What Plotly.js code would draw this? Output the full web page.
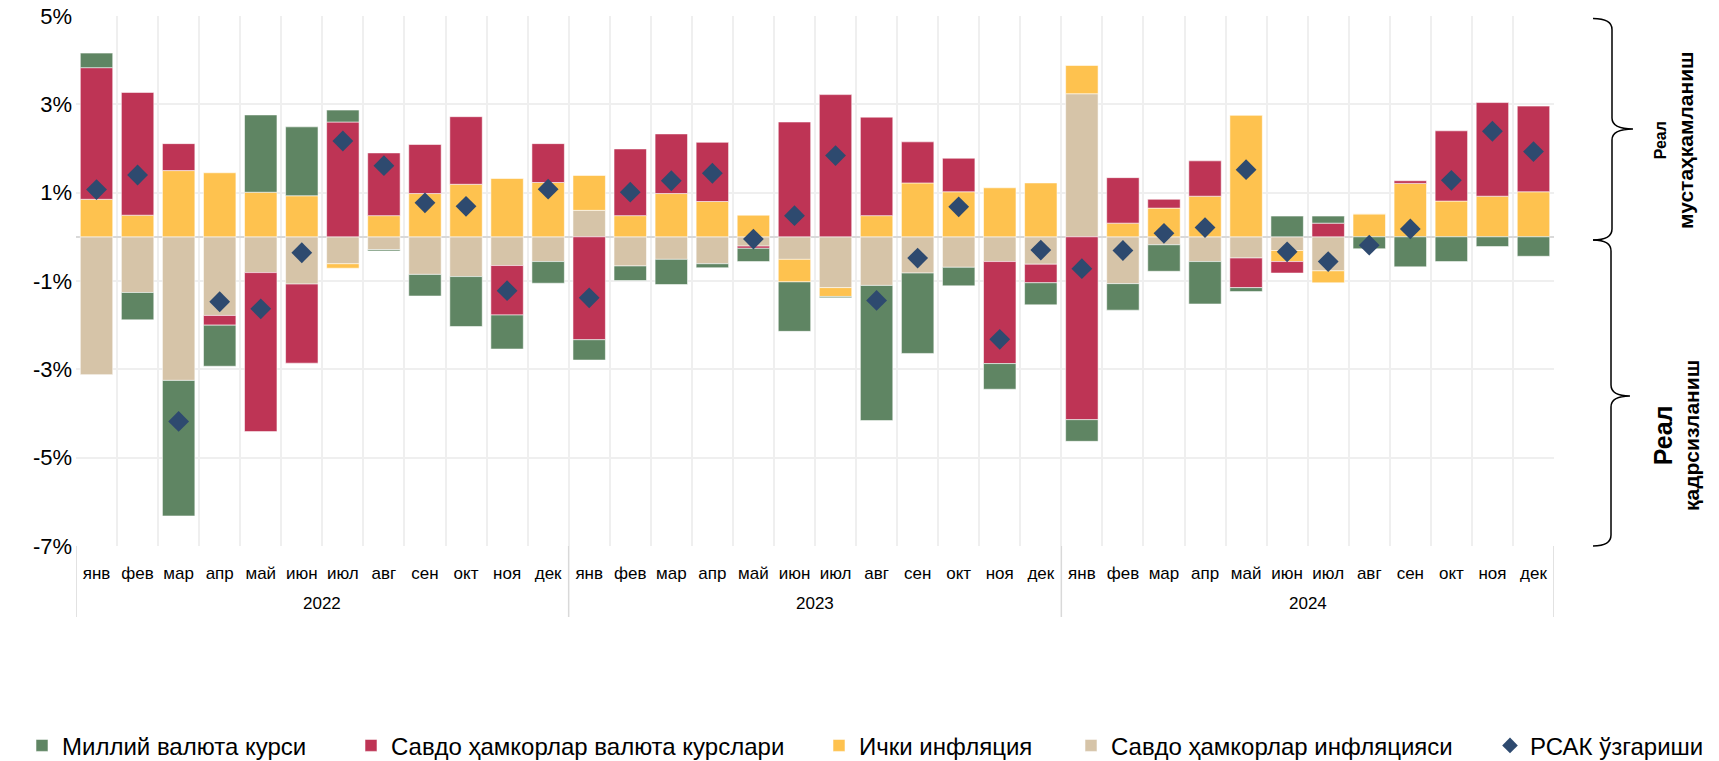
<!DOCTYPE html>
<html>
<head>
<meta charset="utf-8">
<script src="https://cdn.plot.ly/plotly-3.0.1.min.js"></script>
<style>html,body{margin:0;padding:0;background:#fff;}#chart{width:1719px;height:761px;}</style>
</head>
<body>
<div id="chart"></div>
<script>
// ---- data ----
const years = ['2022', '2023', '2024'];
const months = ['янв','фев','мар','апр','май','июн','июл','авг','сен','окт','ноя','дек'];

// Миллий валюта курси
const nationalFx = [
  0.33, -0.62, -3.07, -0.93, 1.75, 1.56, 0.27, -0.03, -0.49, -1.13, -0.77, -0.49,
  -0.46, -0.33, -0.57, -0.09, -0.30, -1.12, -0.03, -3.06, -1.82, -0.42, -0.58, -0.50,
  -0.49, -0.60, -0.60, -0.96, -0.09, 0.47, 0.16, -0.27, -0.68, -0.56, -0.22, -0.44
];
// Савдо ҳамкорлар валюта курслари
const partnerFx = [
  2.98, 2.78, 0.61, -0.22, -3.60, -1.79, 2.60, 1.42, 1.11, 1.53, -1.12, 0.88,
  -2.33, 1.51, 1.35, 1.34, -0.05, 2.60, 3.22, 2.23, 0.93, 0.76, -2.31, -0.42,
  -4.14, 1.03, 0.20, 0.80, -0.67, -0.26, 0.31, 0, 0.06, 1.59, 2.12, 1.94
];
// Ички инфляция
const domesticInfl = [
  0.85, 0.49, 1.50, 1.45, 1.01, 0.93, -0.10, 0.48, 0.98, 1.19, 1.32, 1.23,
  0.79, 0.48, 0.98, 0.80, 0.49, -0.51, -0.20, 0.48, 1.22, 1.02, 1.11, 1.22,
  0.64, 0.31, 0.65, 0.92, 2.75, -0.25, -0.27, 0.52, 1.21, 0.81, 0.92, 1.02
];
// Савдо ҳамкорлар инфляцияси
const partnerInfl = [
  -3.12, -1.26, -3.25, -1.78, -0.81, -1.07, -0.61, -0.29, -0.85, -0.90, -0.65, -0.56,
  0.60, -0.66, -0.51, -0.61, -0.21, -0.51, -1.15, -1.10, -0.82, -0.69, -0.56, -0.62,
  3.24, -1.06, -0.18, -0.56, -0.48, -0.31, -0.77, null, null, null, null, null
];
// РСАК ўзгариши
const reerChange = [
  1.07, 1.40, -4.18, -1.47, -1.63, -0.36, 2.17, 1.61, 0.77, 0.69, -1.22, 1.08,
  -1.38, 1.01, 1.27, 1.44, -0.05, 0.48, 1.84, -1.44, -0.48, 0.68, -2.32, -0.30,
  -0.72, -0.31, 0.08, 0.21, 1.52, -0.34, -0.56, -0.19, 0.18, 1.28, 2.39, 1.93
];

const yTickVals = [-7, -5, -3, -1, 1, 3, 5];
const yTickText = ['-7%', '-5%', '-3%', '-1%', '1%', '3%', '5%'];

const names = {
  nationalFx: 'Миллий валюта курси',
  partnerFx: 'Савдо ҳамкорлар валюта курслари',
  domesticInfl: 'Ички инфляция',
  partnerInfl: 'Савдо ҳамкорлар инфляцияси',
  reerChange: 'РСАК ўзгариши'
};
const brace1Label = ['Реал', 'мустаҳкамланиш'];
const brace2Label = ['Реал', 'қадрсизланиш'];

// ---- build ----
const xMonth = [], xIdx = [];
years.forEach(y => months.forEach(m => { xIdx.push(xMonth.length); xMonth.push(m); }));
const nCat = xMonth.length;
const perYear = months.length;

const colors = {
  green: '#5F8563', red: '#BE3455', yellow: '#FEC24F', beige: '#D6C4A8', navy: '#2E4A6F'
};
const barLine = {color: 'rgba(255,255,255,0.55)', width: 1};

function bar(vals, name, color, legend) {
  return {type: 'bar', x: xIdx, y: vals, name: name, legend: legend,
    marker: {color: color, line: barLine}, hoverinfo: 'skip'};
}

const traces = [
  bar(partnerInfl, names.partnerInfl, colors.beige, 'legend4'),
  bar(domesticInfl, names.domesticInfl, colors.yellow, 'legend3'),
  bar(partnerFx, names.partnerFx, colors.red, 'legend2'),
  bar(nationalFx, names.nationalFx, colors.green, 'legend'),
  {type: 'scatter', mode: 'markers', x: xIdx, y: reerChange, name: names.reerChange,
   legend: 'legend5', hoverinfo: 'skip', cliponaxis: false,
   marker: {symbol: 'diamond', size: 16, color: colors.navy}}
];

// plot area geometry (px)
const W = 1719, H = 761;
const M = {l: 76, r: 165, t: 16, b: 215, autoexpand: false};
const PW = W - M.l - M.r, PH = H - M.t - M.b;
const px = X0 => (X0 - M.l) / PW;
const py = Y0 => (H - M.b - Y0) / PH;
function brace(x0, xv, xt, y0, ym, y1) {
  const c = 11;
  const pts = [
    ['M', x0, y0], ['Q', xv, y0, xv, y0 + c], ['L', xv, ym - c],
    ['Q', xv, ym, xt, ym], ['Q', xv, ym, xv, ym + c], ['L', xv, y1 - c],
    ['Q', xv, y1, x0, y1]
  ];
  return pts.map(p => {
    let s = p[0];
    for (let i = 1; i < p.length; i += 2) s += ' ' + px(p[i]).toFixed(5) + ',' + py(p[i+1]).toFixed(5);
    return s;
  }).join(' ');
}

const legendBase = {orientation: 'h', xref: 'container', yref: 'container', y: 0.02,
  yanchor: 'middle', xanchor: 'left', font: {size: 24, color: '#000', family: 'Liberation Sans, Arial, sans-serif'},
  bgcolor: 'rgba(0,0,0,0)'};
const legendX = [22, 351, 819, 1071, 1490];

// two-line rotated label: small first word, larger second word
function vLabel(x, y, words, firstSize, size) {
  return {xref: 'paper', yref: 'paper', x: px(x), y: py(y), xanchor: 'center', yanchor: 'middle',
    align: 'center', textangle: -90, showarrow: false, font: {size: size, color: '#000'},
    text: '<b><span style="font-size:' + firstSize + 'px">' + words[0] + '</span><br>' + words[1] + '</b>'};
}

// year group labels and dividers (positioned on the x axis scale)
const yearAnns = years.map((y, i) => ({
  xref: 'x', yref: 'paper', x: i * perYear + (perYear - 1) / 2, y: py(603),
  xanchor: 'center', yanchor: 'middle', text: y, showarrow: false,
  font: {size: 17, color: '#000'}
}));
const dividerShapes = [];
for (let i = 0; i <= years.length; i++) {
  dividerShapes.push({type: 'line', xref: 'x', yref: 'paper',
    x0: i * perYear - 0.5, x1: i * perYear - 0.5, y0: 0, y1: py(617),
    line: {color: '#d9d9d9', width: 1.5}});
}

const layout = {
  width: W, height: H,
  margin: M,
  paper_bgcolor: '#fff', plot_bgcolor: '#fff',
  font: {family: 'Liberation Sans, Arial, sans-serif', color: '#000'},
  barmode: 'relative',
  bargap: 0.21,
  showlegend: true,
  legend: Object.assign({}, legendBase, {x: legendX[0] / W}),
  legend2: Object.assign({}, legendBase, {x: legendX[1] / W}),
  legend3: Object.assign({}, legendBase, {x: legendX[2] / W}),
  legend4: Object.assign({}, legendBase, {x: legendX[3] / W}),
  legend5: Object.assign({}, legendBase, {x: legendX[4] / W, itemsizing: 'constant'}),
  xaxis: {
    range: [-0.5, nCat - 0.5], autorange: false,
    tickmode: 'array', tickvals: xIdx, ticktext: xMonth, tickangle: 0,
    showgrid: false, ticks: '', ticklabelstandoff: 15,
    minor: {tick0: -0.5, dtick: 1, showgrid: true, gridcolor: '#efefef', gridwidth: 2, ticks: ''},
    showline: false, zeroline: false,
    tickfont: {size: 17, color: '#000'}
  },
  yaxis: {
    range: [-7, 5], autorange: false, tickvals: yTickVals, ticktext: yTickText,
    showgrid: true, gridcolor: '#efefef', gridwidth: 2,
    zeroline: true, zerolinecolor: '#d9d9d9', zerolinewidth: 2,
    showline: false, ticks: '', ticklabelstandoff: 3,
    tickfont: {size: 22, color: '#000'}
  },
  shapes: [
    {type: 'path', xref: 'paper', yref: 'paper', path: brace(1593, 1612, 1633, 18.5, 129, 240),
     line: {color: '#000', width: 1.5}},
    {type: 'path', xref: 'paper', yref: 'paper', path: brace(1593, 1611, 1630, 240, 396, 546),
     line: {color: '#000', width: 1.5}}
  ].concat(dividerShapes),
  annotations: [
    vLabel(1675, 140, brace1Label, 16, 21),
    vLabel(1676, 436, brace2Label, 25, 21)
  ].concat(yearAnns)
};

Plotly.newPlot('chart', traces, layout, {displayModeBar: false, staticPlot: true});
</script>
</body>
</html>
